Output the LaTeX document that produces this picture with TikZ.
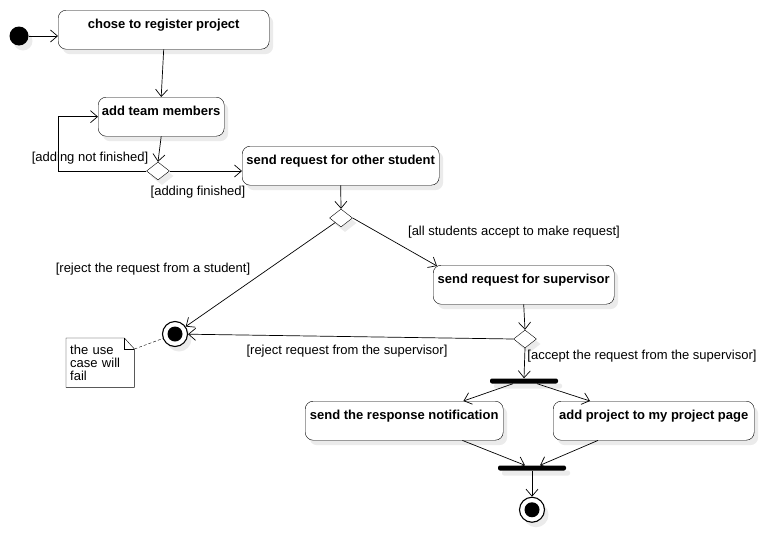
\documentclass[tikz,border=0pt]{standalone}
\usepackage{fontspec}
\setmainfont{Liberation Sans}
\usetikzlibrary{arrows.meta, shapes.geometric, shadows, positioning, calc}

\begin{document}
\begin{tikzpicture}[x=1pt, y=-1pt, node distance=26pt,
                every node/.style={font=\fontsize{13}{13}\selectfont},
                softshadow/.style={drop shadow={shadow xshift=4pt, shadow yshift=-5pt, fill=black!8, opacity=1}},
                act/.style={draw, rounded corners=8pt, anchor=north west, fill=white, softshadow,
                            font=\fontsize{13}{13}\selectfont\bfseries, inner xsep=3pt, inner ysep=8pt,
                            text height=10pt, text depth=13pt},
                choice/.style={draw, diamond, minimum width=23pt, minimum height=18pt, inner sep=0pt, fill=white, softshadow},
                bar/.style={fill=black, minimum width=68pt, minimum height=5pt, inner sep=0pt, rounded corners=2pt, softshadow},
                startdot/.style={circle, fill=black, minimum size=19pt, inner sep=0pt, softshadow},
                enddot/.style={circle, draw, line width=1.1pt, fill=white, minimum size=25pt, inner sep=0pt, softshadow,
                               path picture={\fill[black] (path picture bounding box.center) circle (7.5pt);}},
                guard/.style={inner sep=0pt},
                memo/.style={anchor=north west, align=left, inner sep=4pt, minimum width=68pt, minimum height=49pt, text width=60pt},
                flow/.style={line width=0.7pt, -{Straight Barb[length=7pt, width=12pt]}}]
                \useasboundingbox (0,0) rectangle (768,533);
                % activities
                \node (start)    [startdot] at (19,36) {};
                \node (chose)    [act, minimum width=211pt] at (58,10)  {chose to register project};
                \node (team)     [act, minimum width=126pt] at (98,97)  {add team members};
                \node (d1)       [choice] at (158,171) {};
                \node (sendstud) [act, minimum width=197pt] at (242,146) {send request for other student};
                \node (d2)       [choice] at (341,218) {};
                \node (supv)     [act, minimum width=181pt] at (433,265) {send request for supervisor};
                \node (d3)       [choice] at (525,339) {};
                \node (fail)     [enddot] at (175,334) {};
                \node (note)     [memo] at (66,338) {the use\\case will\\fail};
                \node (fork)     [bar] at (524,381) {};
                \node (resp)     [act, minimum width=198pt] at (305,401) {send the response notification};
                \node (addp)     [act, minimum width=201pt] at (553,401) {add project to my project page};
                \node (join)     [bar] at (532,468) {};
                \node (done)     [enddot, below=26pt of join] {};
                % guards
                \node (gNotDone) [guard] at (90,158)  {[adding not finished]};
                \node (gDone)    [guard] at (198,192) {[adding finished]};
                \node (gAll)     [guard] at (514,232) {[all students accept to make request]};
                \node (gStud)    [guard] at (153,269) {[reject the request from a student]};
                \node (gSupNo)   [guard] at (347,351) {[reject request from the supervisor]};
                \node (gSupYes)  [guard] at (642,356) {[accept the request from the supervisor]};
                % note outline
                \draw (note.north west) -- ([xshift=-10pt]note.north east) -- ([yshift=-11pt]note.north east)
                      -- (note.south east) -- (note.south west) -- cycle;
                \draw ([xshift=-10pt]note.north east) |- ([yshift=-11pt]note.north east);
                % flows
                \draw[flow] (start) -- (start -| chose.west);
                \draw[flow] (chose.south) -- (team.north);
                \draw[flow] (team.south) -- (d1.north);
                \draw[flow] (d1.west) -| ([xshift=-40pt]team.west) -- (team.west);
                \draw[flow] (d1.east) -- (d1.east -| sendstud.west);
                \draw[flow] (sendstud.south) -- (d2.north);
                \draw[flow] (d2.south west) -- (fail);
                \draw[flow] (d2.east) -- ([xshift=4pt, yshift=-1pt]supv.north west);
                \draw[flow] (supv.south) -- (d3.north);
                \draw[flow] (d3.west) -- (fail);
                \draw[dash pattern=on 3pt off 2pt] ([yshift=-11pt]note.north east) -- (fail);
                \draw[flow] (d3.south) -- (fork.north);
                \draw[flow] ([xshift=-11pt]fork.south) -- ([xshift=-40pt]resp.north east);
                \draw[flow] ([xshift=13pt]fork.south) -- ([xshift=37pt]addp.north west);
                \draw[flow] ([xshift=-41pt]resp.south east) -- ([xshift=-7pt]join.north);
                \draw[flow] ([xshift=45pt]addp.south west) -- ([xshift=8pt]join.north);
                \draw[flow] (join.south) -- (done);
            \end{tikzpicture}
\end{document}
